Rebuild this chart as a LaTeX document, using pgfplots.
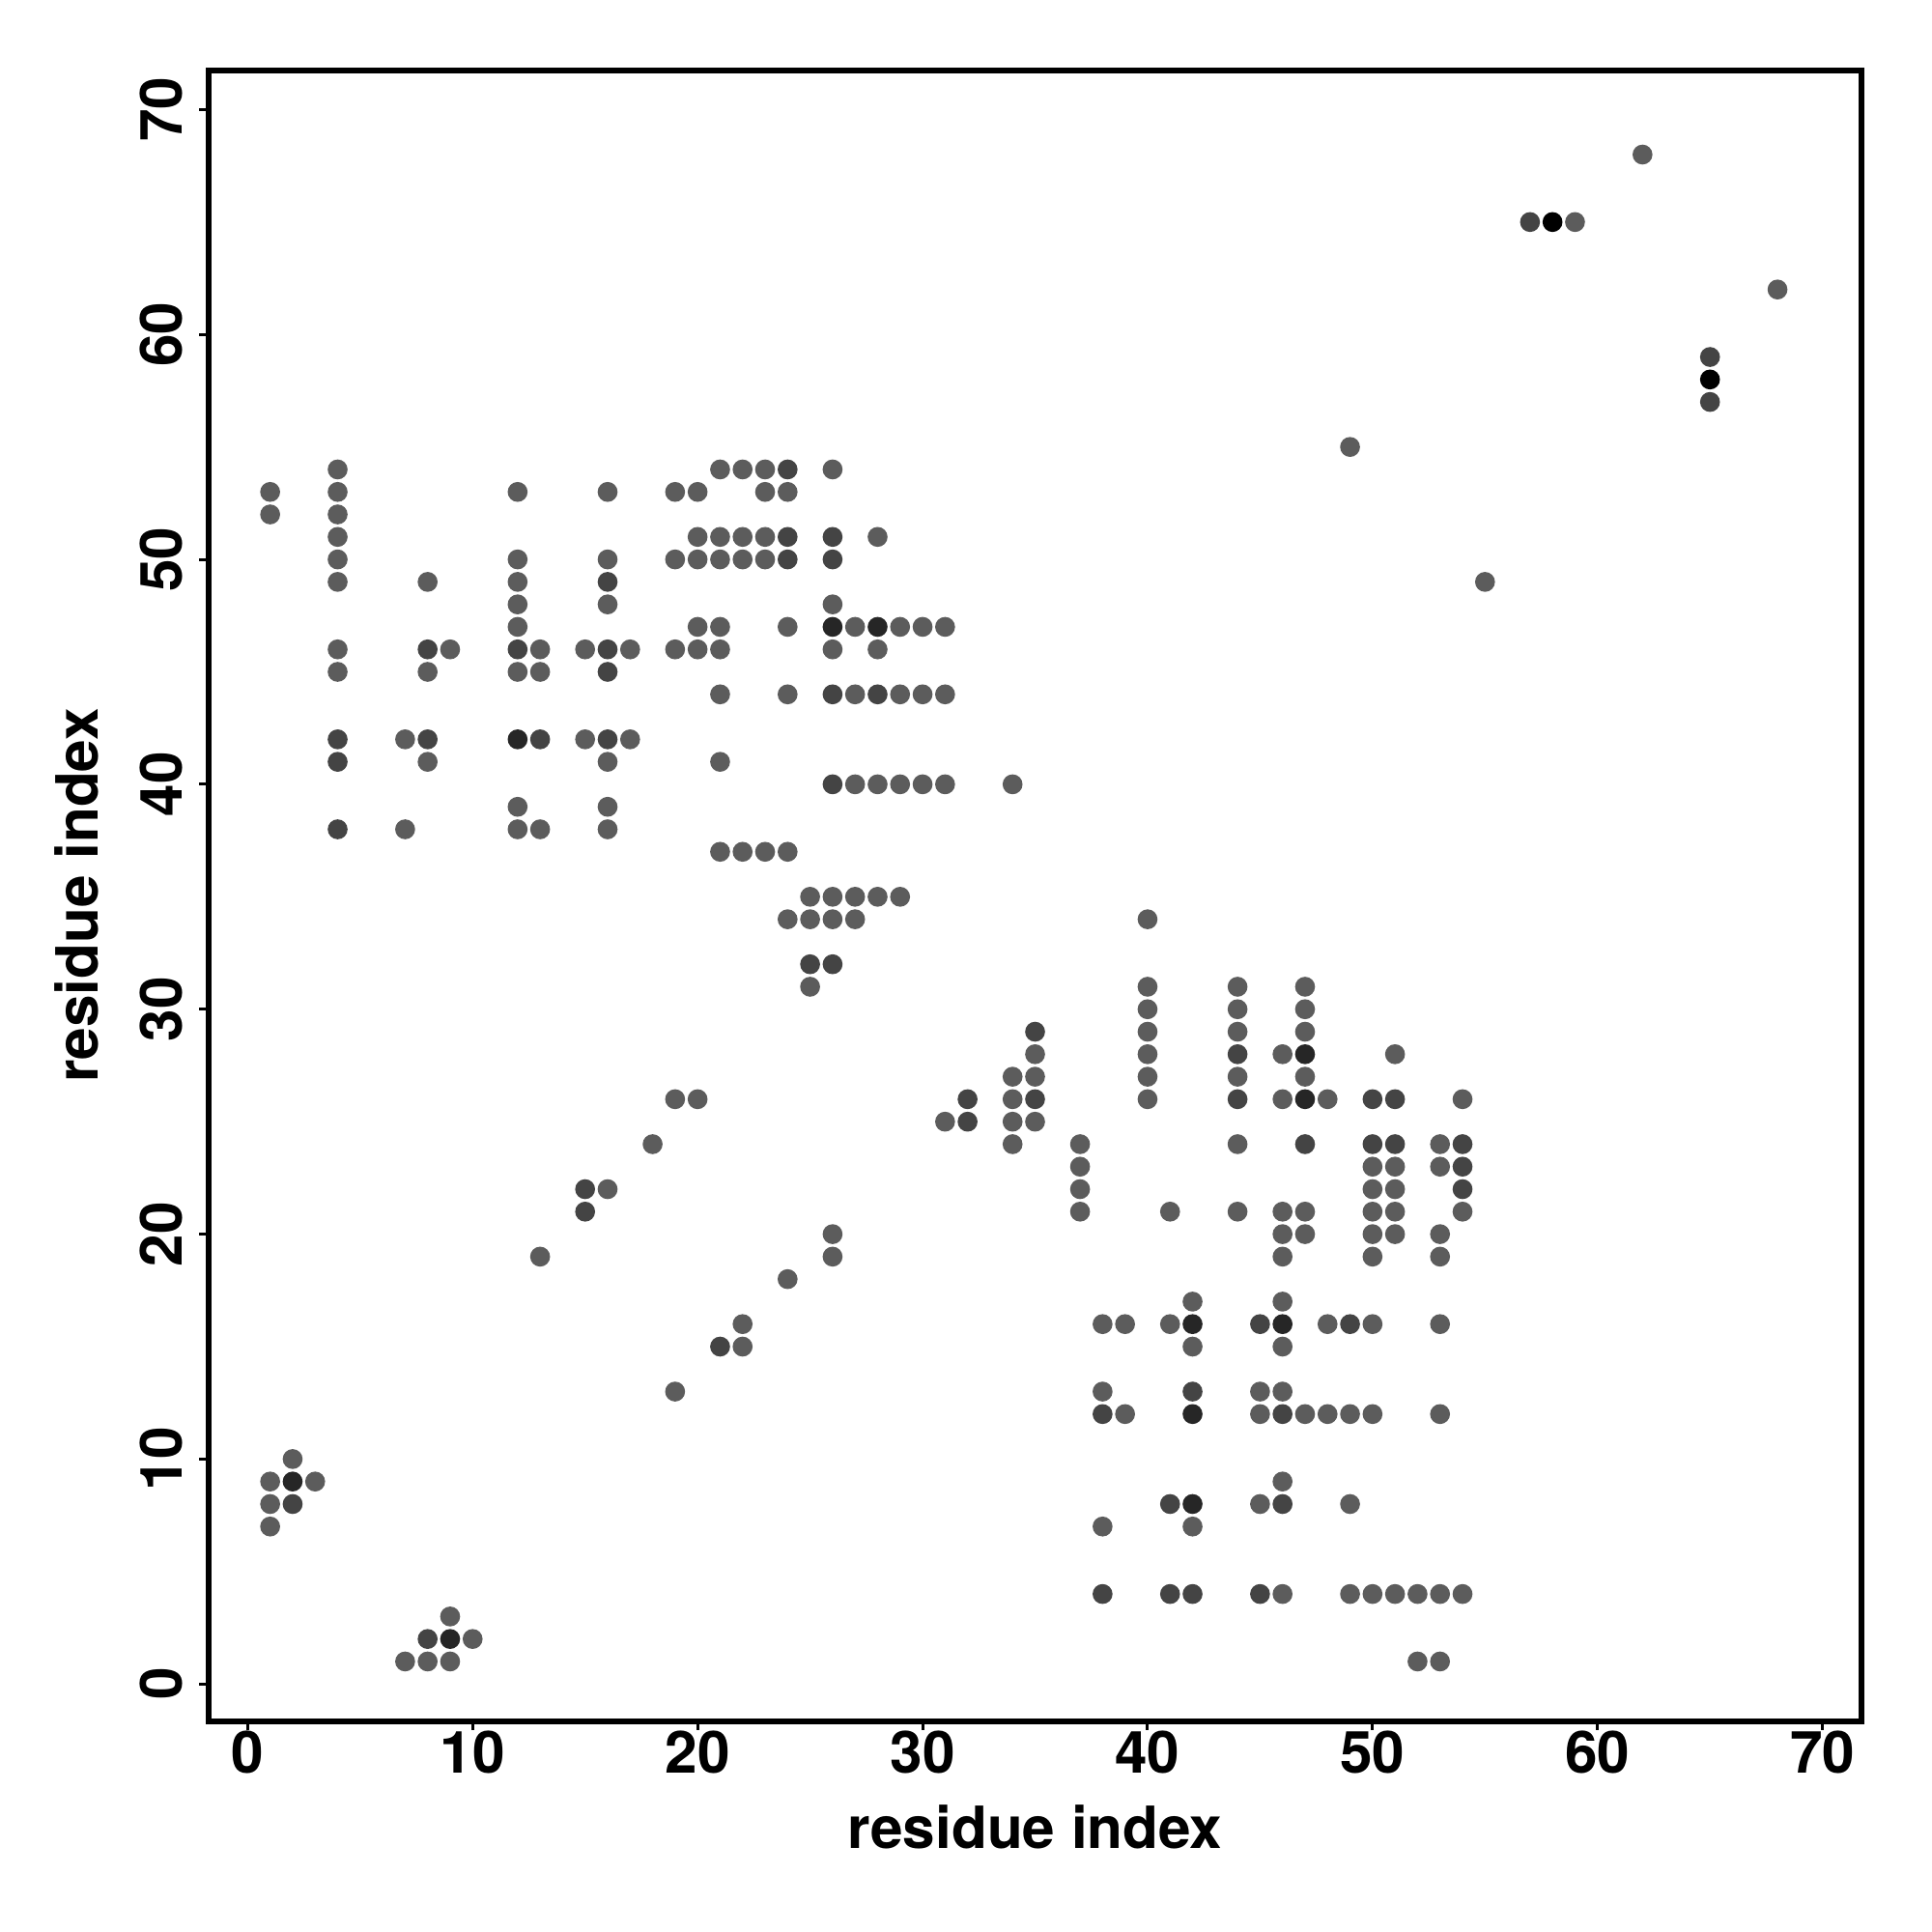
\documentclass[border=0pt]{standalone}
\usepackage{pgfplots}
\pgfplotsset{compat=1.18}
\usetikzlibrary{calc}
\usepackage{fontspec}
\setmainfont{TeX Gyre Heros}
\definecolor{gA}{HTML}{5C5C5C}
\definecolor{gB}{HTML}{444444}
\definecolor{gC}{HTML}{262626}
\definecolor{gD}{HTML}{000000}
\begin{document}
\begin{tikzpicture}
\begin{axis}[
  scale only axis, width=11.98cm, height=11.96cm,
  xmin=-1.75, xmax=71.75, ymin=-1.65, ymax=71.75,
  xtick={0,10,...,70}, ytick={0,10,...,70},
  tick pos=left, tick align=outside, major tick length=0.065cm,
  axis line style={line width=1.2pt}, every tick/.style={black,line width=0.6pt},
  /pgf/number format/assume math mode=true,
  ticklabel style={font=\fontsize{12}{14}\selectfont\bfseries},
  xticklabel style={yshift=0.12cm},
  yticklabel style={rotate=90, anchor=south},
  xlabel={residue index}, ylabel={residue index},
  every axis x label/.style={at={(axis description cs:0.5,-0.0644)}, anchor=center, font=\fontsize{12}{14}\selectfont\bfseries},
  every axis y label/.style={at={(axis description cs:-0.0798,0.5)}, anchor=center, rotate=90, font=\fontsize{12}{14}\selectfont\bfseries},
  clip=false,
]
\addplot[only marks, mark=*, mark size=1.85pt, color=gA] table {
x y
1 53
1 52
1 9
1 8
1 7
2 10
3 9
4 54
4 53
4 52
4 51
4 50
4 49
4 46
4 45
7 42
7 38
7 1
8 49
8 45
8 41
8 1
9 46
9 3
9 1
10 2
12 53
12 50
12 49
12 48
12 47
12 45
12 39
12 38
13 46
13 45
13 38
13 19
15 46
15 42
16 53
16 50
16 48
16 41
16 39
16 38
16 22
17 46
17 42
18 24
19 53
19 50
19 46
19 26
19 13
20 53
20 51
20 50
20 47
20 46
20 26
21 54
21 51
21 50
21 47
21 46
21 44
21 41
21 37
22 54
22 51
22 50
22 37
22 16
22 15
23 54
23 53
23 51
23 50
23 37
24 53
24 47
24 44
24 37
24 34
24 18
25 35
25 34
25 31
26 54
26 48
26 46
26 35
26 34
26 20
26 19
27 47
27 44
27 40
27 35
27 34
28 51
28 46
28 40
28 35
29 47
29 44
29 40
29 35
30 47
30 44
30 40
31 47
31 44
31 40
31 25
34 40
34 27
34 26
34 25
34 24
35 28
35 27
35 25
37 24
37 23
37 22
37 21
38 16
38 13
38 7
39 16
39 12
40 34
40 31
40 30
40 29
40 28
40 27
40 26
41 21
41 16
42 17
42 15
42 7
44 31
44 30
44 29
44 27
44 24
44 21
45 13
45 12
45 8
46 28
46 26
46 21
46 20
46 19
46 17
46 15
46 13
46 9
46 4
47 31
47 30
47 29
47 27
47 21
47 20
47 12
48 26
48 16
48 12
49 55
49 12
49 8
49 4
50 23
50 22
50 21
50 20
50 19
50 16
50 12
50 4
51 28
51 23
51 22
51 21
51 20
51 4
52 4
52 1
53 24
53 23
53 20
53 19
53 16
53 12
53 4
53 1
54 26
54 21
54 4
55 49
59 65
62 68
68 62
};
\addplot[only marks, mark=*, mark size=1.85pt, color=gB] table {
x y
2 8
4 42
4 41
4 38
8 46
8 42
8 2
12 46
13 42
15 22
15 21
16 49
16 46
16 45
16 42
21 15
24 54
24 51
24 50
25 32
26 51
26 50
26 44
26 40
26 32
28 44
32 26
32 25
35 29
35 26
38 12
38 4
41 8
41 4
42 13
42 4
44 28
44 26
45 16
45 4
46 12
46 8
47 24
49 16
50 26
50 24
51 26
51 24
54 24
54 23
54 22
57 65
65 59
65 57
};
\addplot[only marks, mark=*, mark size=1.85pt, color=gC] table {
x y
2 9
9 2
12 42
26 47
28 47
42 16
42 12
42 8
46 16
47 28
47 26
};
\addplot[only marks, mark=*, mark size=1.85pt, color=gD] table {
x y
58 65
65 58
};
\end{axis}
\pgfresetboundingbox
\path ($(current axis.south west)+(-1.509cm,-1.526cm)$) rectangle ($(current axis.north east)+(0.508cm,0.509cm)$);
\end{tikzpicture}
\end{document}
